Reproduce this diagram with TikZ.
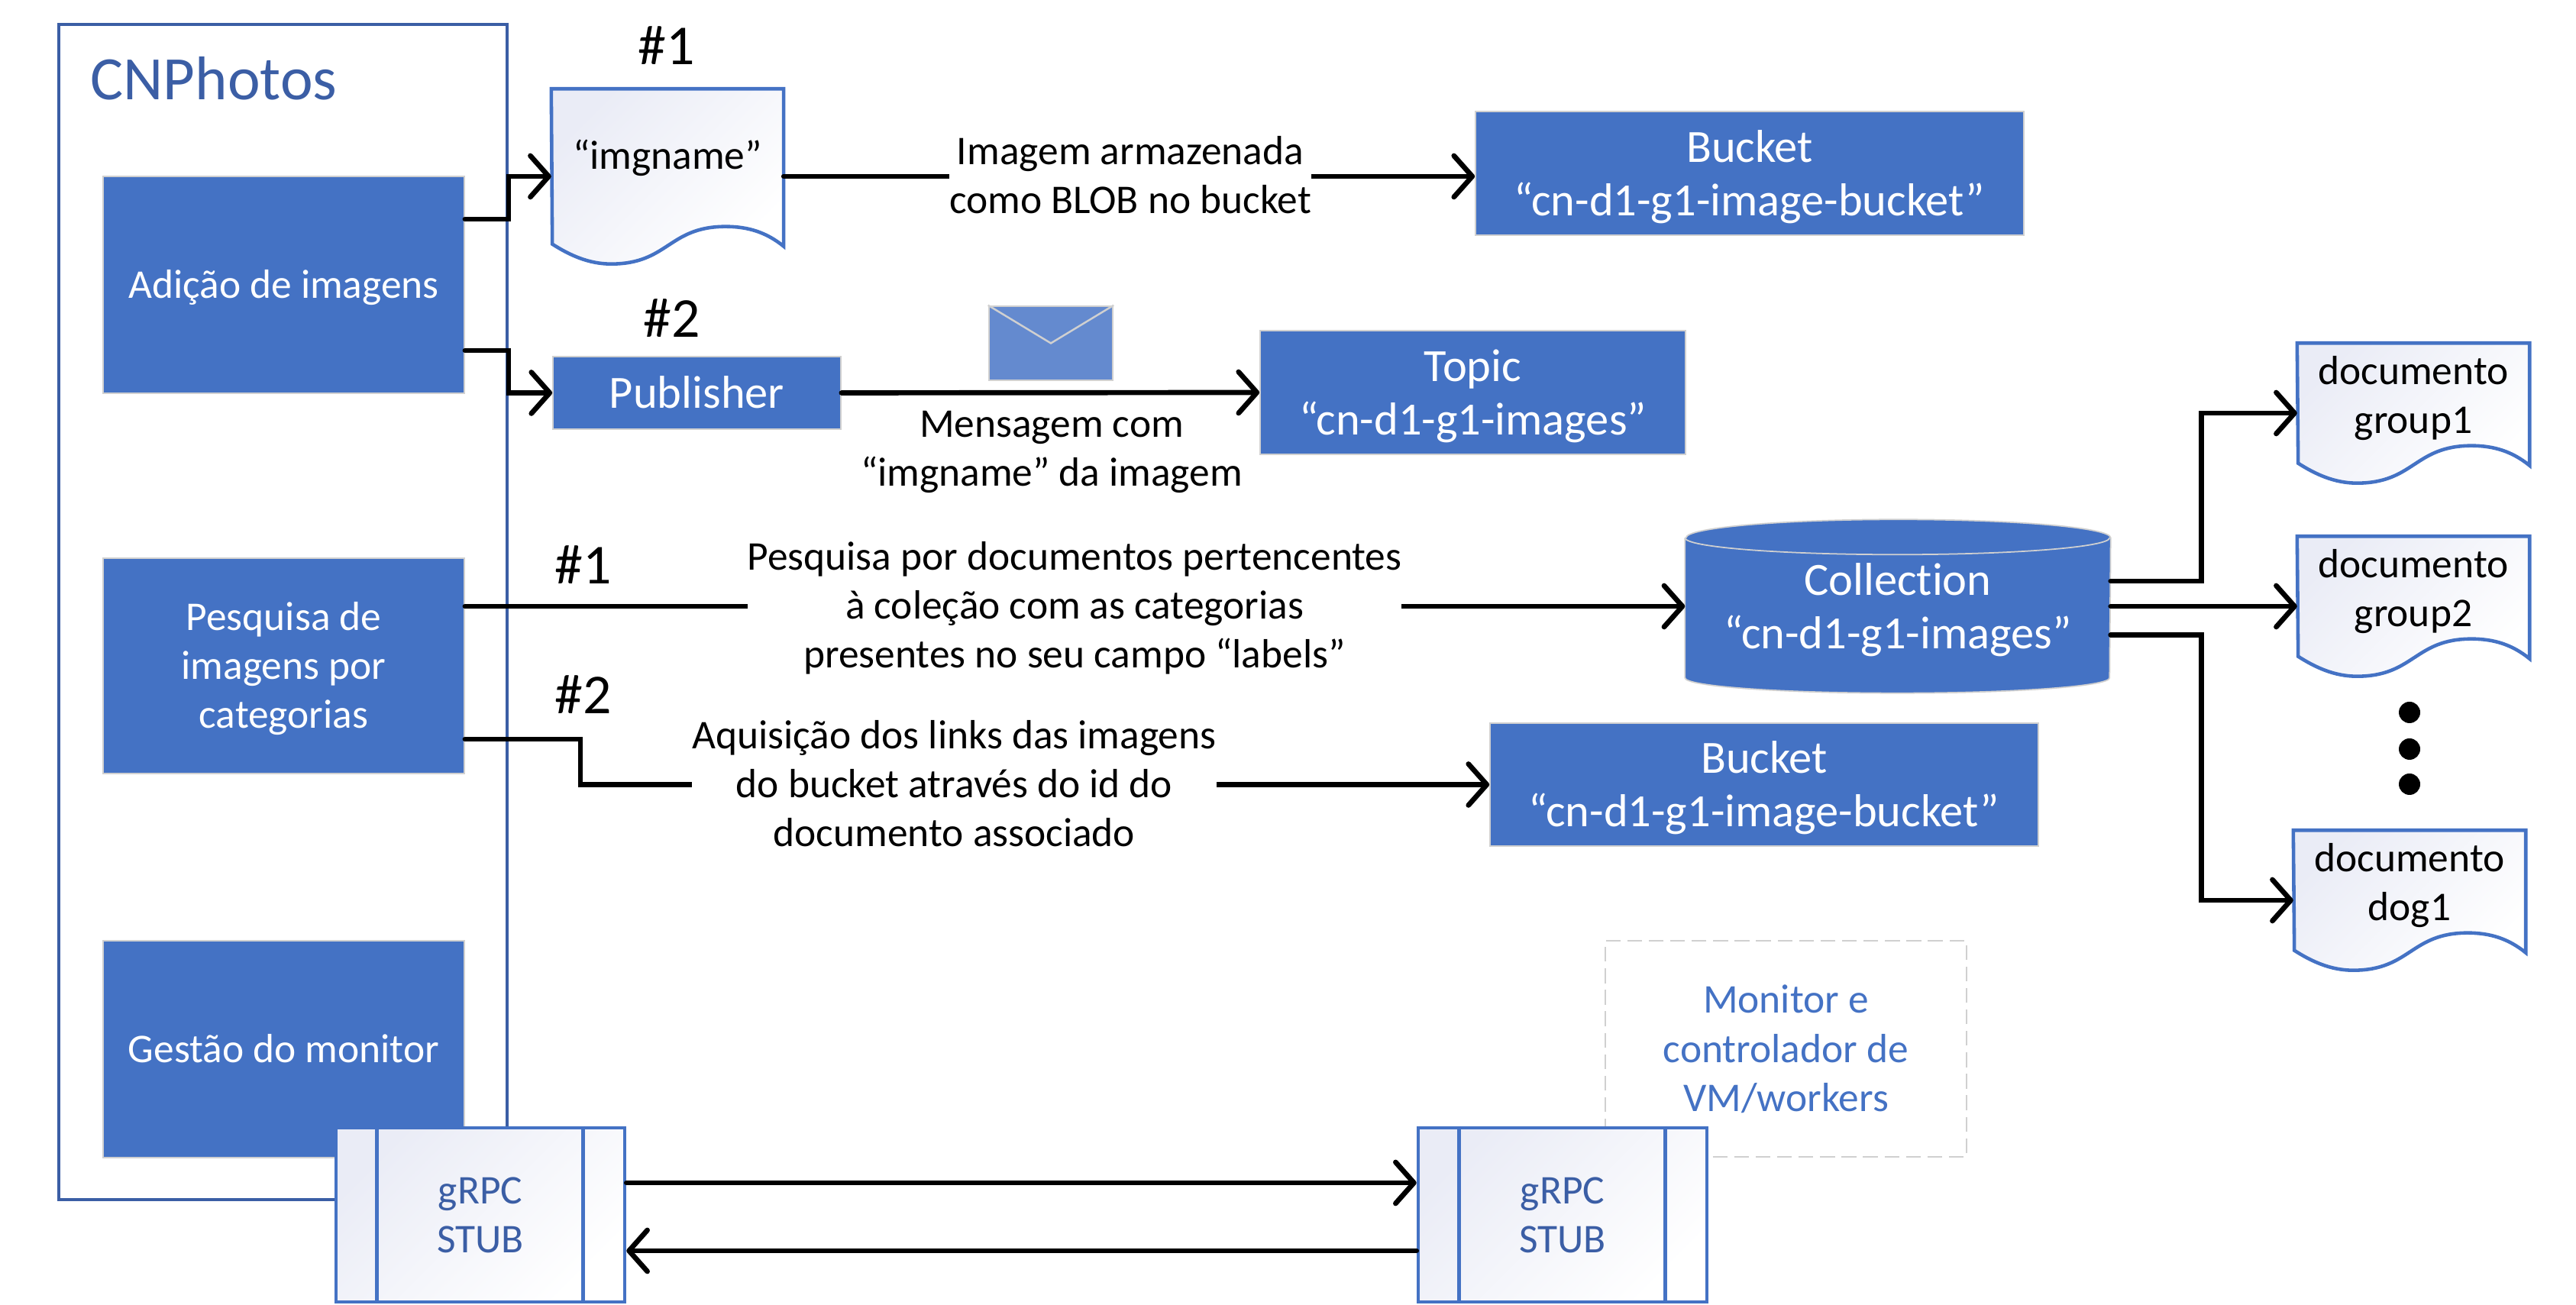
\documentclass[tikz,border=0pt]{standalone}
\usepackage{fontspec}
\setmainfont[Ligatures=NoCommon]{Carlito}
\usetikzlibrary{arrows.meta}
\definecolor{officeblue}{RGB}{68, 114, 196}
\definecolor{framedark}{RGB}{59, 94, 165}
\definecolor{envelopeblue}{RGB}{100, 138, 207}
\definecolor{paleblue}{RGB}{234, 236, 246}
\definecolor{softline}{RGB}{208, 208, 208}
\newcommand{\topstrut}{\rule{0pt}{1.02em}}
\tikzset{
    bodytext/.style={font=\fontsize{15.2}{18.3}\selectfont, align=center, inner sep=0pt, execute at begin node=\topstrut, execute at end node=\strut},
    bigtext/.style={font=\fontsize{17.2}{20}\selectfont, align=center, inner sep=0pt, execute at begin node=\topstrut, execute at end node=\strut},
    hashtext/.style={font=\fontsize{21}{25}\selectfont, inner sep=0pt},
    blockbox/.style={rectangle, draw=softline, line width=0.5pt, fill=officeblue, text=white},
    labeltext/.style={bodytext, fill=white},
    paleshade/.style={top color=paleblue, bottom color=white, shading angle=45},
    docline/.style={draw=officeblue, line width=1.3pt, paleshade},
    stubbox/.style={rectangle, draw=officeblue, line width=1.3pt, paleshade, text=framedark, bodytext, minimum width=3.78cm, minimum height=2.28cm},
    stubline/.style={draw=officeblue, line width=1.3pt},
    conn/.style={draw=black, line width=1.9pt, line cap=round, line join=miter},
    connarrow/.style={conn, -{Straight Barb[length=2.4mm, width=5.4mm, line width=1.9pt, round]}}
}
\newcommand{\docnode}[5]{
    \node[rectangle, inner sep=0pt, minimum width=3.03cm, minimum height=#3cm] (#1) at (#2) {};
    \path[docline] (#1.north west) -- (#1.north east) -- ([yshift=.23cm]#1.south east)
        .. controls +(-.22,.18) and +(.3,0) .. ++(-.76,.26)
        .. controls +(-.75,0) and +(.75,0) .. ++(-1.5,-.49)
        .. controls +(-.3,0) and +(.22,-.14) .. ++(-.77,.26) -- cycle;
    \node[bodytext, yshift=#4cm] (#1text) at (#1.center) {#5};
}
\begin{document}
\begin{tikzpicture}
    \useasboundingbox (0,0) rectangle (33.73,17.09);

    \node[rectangle, draw=framedark, line width=1.4pt, minimum width=5.87cm, minimum height=15.39cm] (cnphotos) at (3.705, 9.075) {};
    \node[inner sep=0pt, text=framedark, font=\fontsize{23}{27}\selectfont] (cntitle) at (2.80, 16.06) {CNPhotos};

    \node[blockbox, bodytext, minimum width=4.73cm, minimum height=2.84cm] (adicao)   at (3.715, 13.36) {Adição de imagens};
    \node[blockbox, bodytext, minimum width=4.73cm, minimum height=2.82cm] (pesquisa) at (3.715,  8.37) {\topstrut Pesquisa de\\imagens por\\categorias};
    \node[blockbox, bodytext, minimum width=4.73cm, minimum height=2.84cm] (gestao)   at (3.715,  3.35) {Gestão do monitor};

    \docnode{imgdoc}{8.74, 14.78}{2.28}{.27}{“imgname”}
    \docnode{group1}{31.60, 11.68}{1.82}{.23}{\topstrut documento\\group1}
    \docnode{group2}{31.60,  9.15}{1.82}{.23}{\topstrut documento\\group2}
    \docnode{dog1}{31.55,  5.30}{1.82}{.23}{\topstrut documento\\dog1}

    \node[blockbox, bigtext, minimum width=3.77cm, minimum height=.95cm] (publisher) at ( 9.125, 11.945) {Publisher};
    \node[blockbox, bigtext, minimum width=7.18cm, minimum height=1.62cm] (bucketa)  at (22.91,  14.82) {\topstrut Bucket\\“cn-d1-g1-image-bucket”};
    \node[blockbox, bigtext, minimum width=5.57cm, minimum height=1.62cm] (topic)    at (19.285, 11.95) {\topstrut Topic\\“cn-d1-g1-images”};
    \node[blockbox, bigtext, minimum width=7.18cm, minimum height=1.61cm] (bucketb)  at (23.10,   6.815) {\topstrut Bucket\\“cn-d1-g1-image-bucket”};

    \node[rectangle, inner sep=0pt, minimum width=5.56cm, minimum height=2.26cm] (collection) at (24.85, 9.15) {};
    \path[fill=officeblue, draw=softline, line width=0.5pt] ([yshift=-.24cm]collection.north west) -- ([yshift=.2cm]collection.south west)
        arc[start angle=180, end angle=360, x radius=2.78, y radius=.2] -- ([yshift=-.24cm]collection.north east)
        arc[start angle=0, end angle=180, x radius=2.78, y radius=.24];
    \draw[softline, line width=0.5pt] ([yshift=-.24cm]collection.north west) arc[start angle=180, end angle=360, x radius=2.78, y radius=.22];
    \node[bigtext, text=white] (collectiontext) at (collection.center) {\topstrut Collection\\“cn-d1-g1-images”};

    \node[rectangle, draw=softline, line width=0.7pt, fill=envelopeblue, minimum width=1.62cm, minimum height=.97cm] (envelope) at (13.76, 12.595) {};
    \draw[softline, line width=0.7pt] (envelope.north west) -- (envelope.center) -- (envelope.north east);

    \draw[connarrow] ([yshift=.86cm]adicao.east) -- ++(.57,0) |- (imgdoc.west);
    \draw[connarrow] ([yshift=-.86cm]adicao.east) -- ++(.57,0) |- (publisher.west);
    \draw[connarrow] (imgdoc.east) -- (imgdoc.east -| bucketa.west);
    \draw[connarrow] (publisher.east) -- (topic.west);
    \draw[connarrow] ([yshift=.78cm]pesquisa.east) -- (collection.west);
    \draw[connarrow] ([yshift=-.96cm]pesquisa.east) -- ++(1.51,0) |- (bucketb.west);
    \draw[connarrow] ([yshift=.33cm]collection.east) -- ++(1.19,0) |- (group1.west);
    \draw[connarrow] (collection.east) -- (group2.west);
    \draw[connarrow] ([yshift=-.375cm]collection.east) -- ++(1.19,0) |- (dog1.west);

    \node[hashtext] (hasha) at (8.73, 16.49) {\#1};
    \node[hashtext] (hashb) at (8.80, 12.92) {\#2};
    \node[hashtext] (hashc) at (7.64,  9.69) {\#1};
    \node[hashtext] (hashd) at (7.64,  7.99) {\#2};

    \node[labeltext] (labelblob)   at (14.80, 14.79) {\topstrut Imagem armazenada\\como BLOB no bucket};
    \node[bodytext]  (labelmsg)    at (13.77, 11.22) {\topstrut Mensagem com\\“imgname” da imagem};
    \node[labeltext] (labelsearch) at (14.07,  9.16) {\topstrut Pesquisa por documentos pertencentes\\à coleção com as categorias\\presentes no seu campo “labels”};
    \node[labeltext] (labellinks)  at (12.495, 6.82) {\topstrut Aquisição dos links das imagens\\do bucket através do id do\\documento associado};

    \fill[black] (31.55, 7.76) circle (.14) (31.55, 7.28) circle (.14) (31.55, 6.82) circle (.14);

    \node[rectangle, draw=softline, dash pattern=on 5.5pt off 2.5pt, line width=0.6pt, bodytext, text=officeblue, minimum width=4.73cm, minimum height=2.83cm] (monitor) at (23.385, 3.355) {\topstrut Monitor e\\controlador de\\VM/workers};

    \node[stubbox] (stubleft)  at ( 6.29, 1.18) {\topstrut gRPC\\STUB};
    \node[stubbox] (stubright) at (20.46, 1.18) {\topstrut gRPC\\STUB};
    \draw[stubline] ([xshift=.56cm]stubleft.north west) -- ([xshift=.56cm]stubleft.south west);
    \draw[stubline] ([xshift=-.57cm]stubleft.north east) -- ([xshift=-.57cm]stubleft.south east);
    \draw[stubline] ([xshift=.56cm]stubright.north west) -- ([xshift=.56cm]stubright.south west);
    \draw[stubline] ([xshift=-.57cm]stubright.north east) -- ([xshift=-.57cm]stubright.south east);

    \draw[connarrow] ([yshift=.42cm]stubleft.east) -- ([yshift=.42cm]stubright.west);
    \draw[connarrow] ([yshift=-.47cm]stubright.west) -- ([yshift=-.47cm]stubleft.east);
\end{tikzpicture}
\end{document}
